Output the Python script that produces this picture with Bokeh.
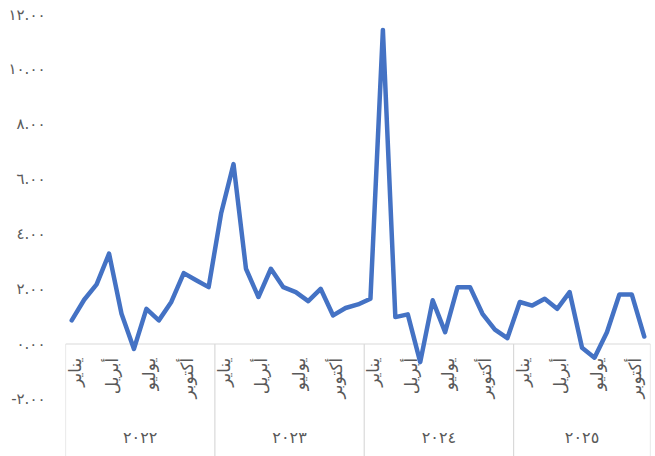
import math
from bokeh.plotting import figure
from bokeh.models import Range1d, FixedTicker, ColumnDataSource
from bokeh.core.properties import value
from bokeh.embed import file_html
from bokeh.resources import INLINE

# ---- data ----
years = ["٢٠٢٢", "٢٠٢٣", "٢٠٢٤", "٢٠٢٥"]
months_per_year = [12, 12, 12, 11]
shown_month_names = ["يناير", "أبريل", "يوليو", "أكتوبر"]
shown_month_offsets = [0, 3, 6, 9]

values_2022 = [0.86, 1.61, 2.17, 3.29, 1.10, -0.18, 1.28, 0.86, 1.53, 2.58, 2.32, 2.07]
values_2023 = [4.75, 6.55, 2.74, 1.71, 2.74, 2.07, 1.89, 1.56, 2.01, 1.04, 1.31, 1.44]
values_2024 = [1.65, 11.44, 0.98, 1.08, -0.66, 1.59, 0.43, 2.07, 2.07, 1.10, 0.52, 0.21]
values_2025 = [1.53, 1.40, 1.65, 1.28, 1.89, -0.14, -0.50, 0.43, 1.80, 1.80, 0.27]

y_ticks = [-2, 0, 2, 4, 6, 8, 10, 12]
y_tick_labels = ["-٢.٠٠", "٠.٠٠", "٢.٠٠", "٤.٠٠", "٦.٠٠", "٨.٠٠", "١٠.٠٠", "١٢.٠٠"]

# ---- derived ----
series = values_2022 + values_2023 + values_2024 + values_2025
xs = list(range(len(series)))
n = len(series)

starts = []
acc = 0
for m in months_per_year:
    starts.append(acc)
    acc += m

lab_x, lab_t = [], []
for s, m in zip(starts, months_per_year):
    for name, off in zip(shown_month_names, shown_month_offsets):
        if off < m:
            lab_x.append(s + off)
            lab_t.append(name)

year_x = [s + (m - 1) / 2 for s, m in zip(starts, months_per_year)]
bounds = [s - 0.5 for s in starts] + [n - 0.5]

FONT = "DejaVu Sans"
GRAY = "#595959"
Y_MIN, Y_MAX = -4.098, 12.51

p = figure(width=655, height=456, output_backend="svg", toolbar_location=None,
           x_axis_location=None, y_axis_location="left",
           x_range=Range1d(-0.5, n - 0.5), y_range=Range1d(Y_MIN, Y_MAX),
           min_border_left=65, min_border_right=5, min_border_top=0, min_border_bottom=0)
p.outline_line_color = None
p.grid.visible = False
p.background_fill_color = "white"

ya = p.yaxis[0]
ya.ticker = FixedTicker(ticks=y_ticks)
ya.major_label_overrides = {t: l for t, l in zip(y_ticks, y_tick_labels)}
ya.axis_line_color = None
ya.major_tick_line_color = None
ya.minor_tick_line_color = None
ya.major_tick_out = 0
ya.major_tick_in = 0
ya.major_label_standoff = 20
ya.major_label_text_font = FONT
ya.major_label_text_font_size = "15px"
ya.major_label_text_color = GRAY

# category box: zero line and separators
p.segment(x0=[bounds[0]], y0=[0], x1=[bounds[-1]], y1=[0], line_color="#d9d9d9", line_width=1.2)
p.segment(x0=bounds, y0=[0] * len(bounds), x1=bounds, y1=[Y_MIN] * len(bounds),
          line_color="#d9d9d9", line_width=1.2)

# month labels (rotated)
p.text(x=lab_x, y=[-0.5] * len(lab_x), text=lab_t, angle=math.pi / 2,
       text_align="right", text_baseline="middle", x_offset=3,
       text_font=value(FONT), text_font_size="17px", text_color=GRAY)

# year labels
p.text(x=year_x, y=[-3.41] * len(year_x), text=years,
       text_align="center", text_baseline="middle",
       text_font=value(FONT), text_font_size="16px", text_color=GRAY)

src = ColumnDataSource(dict(x=xs, y=series))
p.line("x", "y", source=src, line_color="#4472C4", line_width=4.5,
       line_join="round", line_cap="round")

open("out.html", "w").write(file_html(p, INLINE))
